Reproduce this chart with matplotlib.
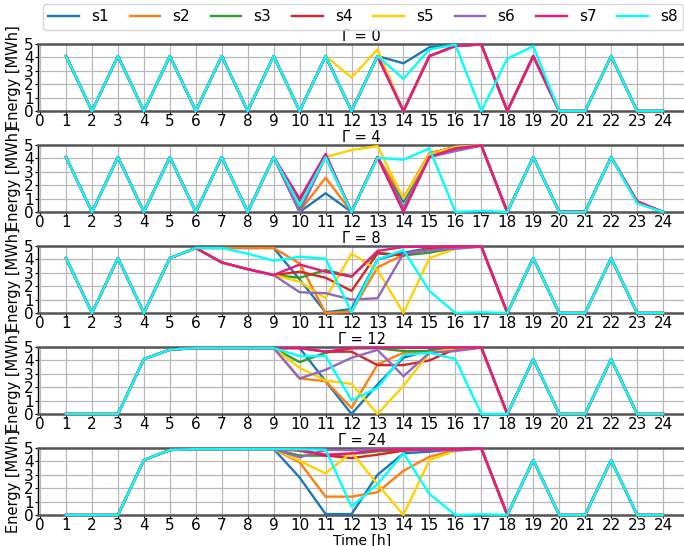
import matplotlib
matplotlib.use("Agg")
import matplotlib.pyplot as plt

hours = list(range(1, 25))
series_names = ["s1", "s2", "s3", "s4", "s5", "s6", "s7", "s8"]
colors = ["#1f77b4", "#ff7f0e", "#2ca02c", "#d62728", "#ffd000", "#9467bd", "#e8197e", "#00ffff"]
gammas = [0, 4, 8, 12, 24]

# Γ = 0
g0_s1 = [4.1, 0, 4.1, 0, 4.1, 0, 4.1, 0, 4.1, 0, 4.1, 0, 4.1, 3.56, 4.75, 4.95, 4.97, 0, 4.1, 0, 0, 4.1, 0, 0]
g0_s2 = [4.1, 0, 4.1, 0, 4.1, 0, 4.1, 0, 4.1, 0, 4.1, 0, 4.1, 0, 4.1, 4.85, 4.97, 0, 4.1, 0, 0, 4.1, 0, 0]
g0_s3 = [4.1, 0, 4.1, 0, 4.1, 0, 4.1, 0, 4.1, 0, 4.1, 0, 4.1, 0, 4.1, 4.85, 4.97, 0, 4.1, 0, 0, 4.1, 0, 0]
g0_s4 = [4.1, 0, 4.1, 0, 4.1, 0, 4.1, 0, 4.1, 0, 4.1, 0, 4.1, 0, 4.1, 4.85, 4.97, 0, 4.1, 0, 0, 4.1, 0, 0]
g0_s5 = [4.1, 0, 4.1, 0, 4.1, 0, 4.1, 0, 4.1, 0, 4.1, 2.5, 4.6, 0, 4.1, 4.85, 4.97, 0, 4.1, 0, 0, 4.1, 0, 0]
g0_s6 = [4.1, 0, 4.1, 0, 4.1, 0, 4.1, 0, 4.1, 0, 4.1, 0, 4.1, 0, 4.1, 4.85, 4.97, 0, 4.1, 0, 0, 4.1, 0, 0]
g0_s7 = [4.1, 0, 4.1, 0, 4.1, 0, 4.1, 0, 4.1, 0, 4.1, 0, 4.1, 0, 4.1, 4.85, 4.97, 0, 4.1, 0, 0, 4.1, 0, 0]
g0_s8 = [4.1, 0, 4.1, 0, 4.1, 0, 4.1, 0, 4.1, 0, 4.1, 0, 4.1, 2.4, 4.6, 4.95, 0, 3.9, 4.83, 0, 0, 4.1, 0, 0]

# Γ = 4
g4_s1 = [4.1, 0, 4.1, 0, 4.1, 0, 4.1, 0, 4.1, 0, 1.4, 0, 4.1, 0.75, 4.3, 4.9, 4.97, 0, 4.1, 0, 0, 4.1, 0.75, 0]
g4_s2 = [4.1, 0, 4.1, 0, 4.1, 0, 4.1, 0, 4.1, 0.05, 2.55, 0, 4.1, 1.05, 4.4, 4.85, 4.97, 0, 4.1, 0, 0, 4.1, 0.75, 0]
g4_s3 = [4.1, 0, 4.1, 0, 4.1, 0, 4.1, 0, 4.1, 0.3, 4.2, 0, 4.1, 0.3, 4.2, 4.7, 4.95, 0, 4.1, 0, 0, 4.1, 0.75, 0]
g4_s4 = [4.1, 0, 4.1, 0, 4.1, 0, 4.1, 0, 4.1, 0.8, 4.3, 0, 4.1, 0.1, 4.15, 4.75, 4.97, 0, 4.1, 0.03, 0.03, 4.1, 0.8, 0]
g4_s5 = [4.1, 0, 4.1, 0, 4.1, 0, 4.1, 0, 4.1, 0.5, 4.1, 4.62, 4.92, 1.0, 4.3, 4.85, 4.97, 0, 4.1, 0, 0, 4.1, 0.75, 0]
g4_s6 = [4.1, 0, 4.1, 0, 4.1, 0, 4.1, 0, 4.1, 0, 4.1, 0, 4.1, 0.2, 4.1, 4.55, 4.95, 0, 4.1, 0, 0, 4.1, 0.75, 0]
g4_s7 = [4.1, 0, 4.1, 0, 4.1, 0, 4.1, 0, 4.1, 1.0, 4.33, 0, 4.1, 0, 4.1, 4.75, 4.97, 0, 4.1, 0.03, 0.03, 4.1, 0.8, 0]
g4_s8 = [4.1, 0, 4.1, 0, 4.1, 0, 4.1, 0, 4.1, 0.5, 4.1, 0, 4.05, 3.9, 4.75, 0, 0.08, 0, 4.1, 0, 0, 4.1, 0.65, 0]

# Γ = 8
g8_s1 = [4.1, 0, 4.1, 0, 4.1, 4.85, 4.85, 4.85, 4.85, 2.5, 0.05, 0.3, 4.0, 4.5, 4.85, 4.95, 4.97, 0, 4.1, 0, 0, 4.1, 0, 0]
g8_s2 = [4.1, 0, 4.1, 0, 4.1, 4.85, 4.85, 4.85, 4.85, 3.7, 0, 0.1, 3.4, 4.35, 4.8, 4.95, 4.97, 0, 4.1, 0, 0, 4.1, 0, 0]
g8_s3 = [4.1, 0, 4.1, 0, 4.1, 4.85, 3.77, 3.27, 2.83, 2.63, 3.2, 2.75, 4.5, 4.3, 4.5, 4.85, 4.97, 0, 4.1, 0, 0, 4.1, 0, 0]
g8_s4 = [4.1, 0, 4.1, 0, 4.1, 4.85, 3.77, 3.27, 2.83, 3.08, 2.63, 1.65, 4.45, 4.3, 4.8, 4.95, 4.97, 0, 4.1, 0, 0, 4.1, 0, 0]
g8_s5 = [4.1, 0, 4.1, 0, 4.1, 4.85, 3.77, 3.27, 2.83, 2.34, 1.1, 4.43, 3.2, 0, 4.1, 4.8, 4.97, 0, 4.1, 0, 0, 4.1, 0, 0]
g8_s6 = [4.1, 0, 4.1, 0, 4.1, 4.85, 3.77, 3.27, 2.83, 1.55, 1.48, 1.0, 1.1, 4.43, 4.68, 4.8, 4.95, 0, 4.1, 0, 0, 4.1, 0, 0]
g8_s7 = [4.1, 0, 4.1, 0, 4.1, 4.85, 3.77, 3.27, 2.83, 3.62, 3.08, 2.71, 4.63, 4.93, 4.95, 4.95, 4.97, 0, 4.1, 0, 0, 4.1, 0, 0]
g8_s8 = [4.1, 0, 4.1, 0, 4.1, 4.85, 4.85, 4.43, 3.9, 4.2, 4.05, 0.07, 4.0, 4.7, 1.65, 0, 0.05, 0, 4.1, 0, 0, 4.1, 0, 0]

# Γ = 12
g12_s1 = [0, 0, 0, 4.1, 4.8, 4.92, 4.92, 4.92, 4.92, 4.92, 2.45, 0, 2.2, 4.2, 4.75, 4.9, 4.97, 0, 4.1, 0, 0, 4.1, 0, 0]
g12_s2 = [0, 0, 0, 4.1, 4.8, 4.92, 4.92, 4.92, 4.92, 2.65, 2.45, 0.45, 3.7, 4.57, 4.6, 4.85, 4.97, 0, 4.1, 0, 0, 4.1, 0, 0]
g12_s3 = [0, 0, 0, 4.1, 4.8, 4.92, 4.92, 4.92, 4.92, 3.87, 4.57, 4.9, 4.9, 4.7, 4.7, 4.85, 4.97, 0, 4.1, 0, 0, 4.1, 0, 0]
g12_s4 = [0, 0, 0, 4.1, 4.8, 4.92, 4.92, 4.92, 4.92, 4.92, 4.65, 4.65, 3.65, 3.65, 4.0, 4.85, 4.97, 0, 4.1, 0, 0, 4.1, 0, 0]
g12_s5 = [0, 0, 0, 4.1, 4.8, 4.92, 4.92, 4.92, 4.92, 3.45, 2.5, 2.25, 0, 2.1, 4.57, 4.9, 4.97, 0, 4.1, 0, 0, 4.1, 0, 0]
g12_s6 = [0, 0, 0, 4.1, 4.8, 4.92, 4.92, 4.92, 4.92, 2.65, 3.3, 4.2, 4.78, 2.82, 4.57, 4.7, 4.95, 0, 4.1, 0, 0, 4.1, 0, 0]
g12_s7 = [0, 0, 0, 4.1, 4.8, 4.92, 4.92, 4.92, 4.92, 4.92, 4.65, 4.92, 4.95, 4.95, 4.95, 4.95, 4.97, 0, 4.1, 0, 0, 4.1, 0, 0]
g12_s8 = [0, 0, 0, 4.1, 4.8, 4.92, 4.92, 4.92, 4.92, 4.32, 4.32, 1.02, 1.95, 4.4, 4.57, 4.1, 0, 0, 4.1, 0, 0, 4.1, 0, 0]

# Γ = 24
g24_s1 = [0, 0, 0, 4.1, 4.85, 4.92, 4.92, 4.92, 4.92, 2.8, 0.07, 0.07, 3.0, 4.6, 4.73, 4.9, 4.97, 0, 4.1, 0, 0, 4.1, 0, 0]
g24_s2 = [0, 0, 0, 4.1, 4.85, 4.92, 4.92, 4.92, 4.92, 3.93, 1.37, 1.37, 1.7, 3.3, 4.35, 4.85, 4.97, 0, 4.1, 0, 0, 4.1, 0, 0]
g24_s3 = [0, 0, 0, 4.1, 4.85, 4.92, 4.92, 4.92, 4.92, 4.43, 4.43, 4.55, 4.75, 4.85, 4.9, 4.9, 4.97, 0, 4.1, 0, 0, 4.1, 0, 0]
g24_s4 = [0, 0, 0, 4.1, 4.85, 4.92, 4.92, 4.92, 4.92, 4.8, 4.43, 4.25, 4.5, 4.8, 4.9, 4.9, 4.97, 0, 4.1, 0, 0, 4.1, 0, 0]
g24_s5 = [0, 0, 0, 4.1, 4.85, 4.92, 4.92, 4.92, 4.92, 4.05, 3.1, 4.68, 2.3, 0, 4.1, 4.8, 4.97, 0, 4.1, 0, 0, 4.1, 0, 0]
g24_s6 = [0, 0, 0, 4.1, 4.85, 4.92, 4.92, 4.92, 4.92, 4.3, 4.85, 4.85, 4.9, 4.9, 4.9, 4.8, 4.95, 0, 4.1, 0, 0, 4.1, 0, 0]
g24_s7 = [0, 0, 0, 4.1, 4.85, 4.92, 4.92, 4.92, 4.92, 4.85, 4.5, 4.6, 4.85, 4.9, 4.9, 4.9, 4.97, 0, 4.1, 0, 0, 4.1, 0, 0]
g24_s8 = [0, 0, 0, 4.1, 4.85, 4.92, 4.92, 4.92, 4.92, 4.9, 4.88, 0.62, 2.3, 4.6, 1.57, 0, 0.05, 0, 4.1, 0, 0, 4.1, 0, 0]

panels = [
    [g0_s1, g0_s2, g0_s3, g0_s4, g0_s5, g0_s6, g0_s7, g0_s8],
    [g4_s1, g4_s2, g4_s3, g4_s4, g4_s5, g4_s6, g4_s7, g4_s8],
    [g8_s1, g8_s2, g8_s3, g8_s4, g8_s5, g8_s6, g8_s7, g8_s8],
    [g12_s1, g12_s2, g12_s3, g12_s4, g12_s5, g12_s6, g12_s7, g12_s8],
    [g24_s1, g24_s2, g24_s3, g24_s4, g24_s5, g24_s6, g24_s7, g24_s8],
]

W, H = 684, 546
fig = plt.figure(figsize=(W / 100, H / 100), dpi=100)

panel_tops = [44, 145, 246, 347, 448]
panel_h = 67
left_px = 38

handles = []
for i, (g, data) in enumerate(zip(gammas, panels)):
    top = panel_tops[i]
    ax = fig.add_axes([left_px / W, 1 - (top + panel_h) / H, 1 - left_px / W + 0.002, panel_h / H])
    for j, (name, vals) in enumerate(zip(series_names, data)):
        ln, = ax.plot(hours, vals, color=colors[j], lw=1.7, label=name, clip_on=False, zorder=3 + j)
        if i == 0:
            handles.append(ln)
    ax.set_xlim(-0.08, 24.86)
    ax.set_ylim(0, 5)
    ax.set_xticks(range(0, 25))
    ax.set_yticks(range(0, 6))
    ax.grid(True, color="#b8b8b8", lw=0.9)
    ax.set_axisbelow(True)
    ax.tick_params(axis="both", labelsize=11, length=2, pad=1)
    ax.tick_params(axis="x", pad=0.5)
    for side in ["top", "bottom"]:
        ax.spines[side].set_color("#555555")
        ax.spines[side].set_linewidth(1.8)
    ax.spines["left"].set_linewidth(1.0)
    ax.spines["right"].set_visible(False)
    ax.set_title(f"Γ = {g}", fontsize=10.5, pad=2)
    ax.set_ylabel("Energy [MWh]", fontsize=10.5, labelpad=2)
    if i == len(gammas) - 1:
        ax.set_xlabel("Time [h]", fontsize=10, labelpad=0)

fig.legend(handles, series_names, loc="upper left", ncol=8,
           bbox_to_anchor=(43 / W, 1 - 4 / H, 640 / W, 0), mode="expand",
           fontsize=11, frameon=True, borderaxespad=0, handlelength=2.0,
           borderpad=0.35, edgecolor="#cccccc")

fig.savefig("out.png", dpi=100)
